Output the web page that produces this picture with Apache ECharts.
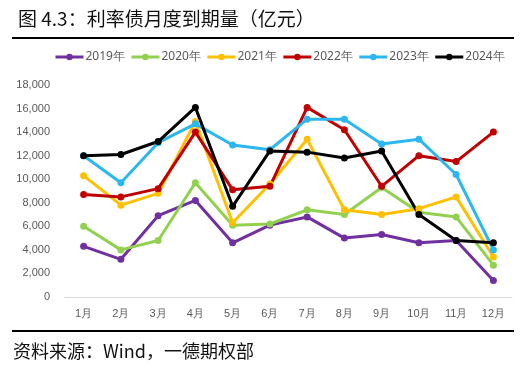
<!DOCTYPE html>
<html>
<head>
<meta charset="utf-8">
<script src="https://cdn.jsdelivr.net/npm/echarts@6/dist/echarts.min.js"></script>
<style>
  html, body { margin: 0; padding: 0; background: #fff; }
  #main { width: 527px; height: 376px; }
</style>
</head>
<body>
<div id="main"></div>
<script>
var months = ['1月', '2月', '3月', '4月', '5月', '6月', '7月', '8月', '9月', '10月', '11月', '12月'];
var years = ['2019年', '2020年', '2021年', '2022年', '2023年', '2024年'];
var colors = ['#7030A0', '#92D050', '#FFC000', '#C00000', '#2DB7F0', '#000000'];

var y2019 = [4300, 3200, 6900, 8200, 4600, 6100, 6800, 5000, 5300, 4600, 4800, 1400];
var y2020 = [6000, 4000, 4800, 9700, 6100, 6200, 7400, 7000, 9300, 7200, 6800, 2700];
var y2021 = [10300, 7800, 8800, 14900, 6300, 9600, 13400, 7400, 7000, 7500, 8500, 3400];
var y2022 = [8700, 8500, 9200, 14000, 9100, 9400, 16100, 14200, 9400, 12000, 11500, 14000];
var y2023 = [12000, 9700, 13100, 14700, 12900, 12500, 15100, 15100, 13000, 13400, 10400, 4000];
var y2024 = [12000, 12100, 13200, 16100, 7700, 12400, 12300, 11800, 12400, 7000, 4800, 4600];

var allData = [y2019, y2020, y2021, y2022, y2023, y2024];

var chart = echarts.init(document.getElementById('main'));

var seriesList = years.map(function (name, i) {
  return {
    name: name,
    type: 'line',
    data: allData[i],
    symbol: 'circle',
    symbolSize: 7,
    lineStyle: { width: 3, color: colors[i] },
    itemStyle: { color: colors[i] }
  };
});

var option = {
  backgroundColor: '#FFFFFF',
  animation: false,
  title: {
    text: '图 4.3：利率债月度到期量（亿元）',
    left: 13,
    top: 4,
    textStyle: {
      fontFamily: 'Noto Sans CJK SC',
      fontSize: 19,
      fontWeight: 'normal',
      color: '#111'
    }
  },
  legend: {
    data: years,
    top: 51,
    left: 54,
    width: 470,
    padding: 0,
    itemWidth: 28,
    itemHeight: 8,
    itemGap: 5,
    lineStyle: { width: 3 },
    textStyle: { color: '#595959', fontSize: 12, fontFamily: 'Noto Sans', padding: [0, 0, 0, -3] }
  },
  grid: {
    left: 65,
    right: 15,
    top: 85,
    bottom: 79
  },
  xAxis: {
    type: 'category',
    data: months,
    axisTick: { show: false },
    axisLine: { lineStyle: { color: '#D9D9D9', width: 1 } },
    axisLabel: { color: '#595959', fontSize: 11, margin: 11 }
  },
  yAxis: {
    type: 'value',
    min: 0,
    max: 18000,
    interval: 2000,
    splitLine: { show: false },
    axisLine: { show: false },
    axisTick: { show: false },
    axisLabel: {
      color: '#595959',
      fontSize: 11,
      margin: 15,
      formatter: function (v) { return v.toLocaleString('en-US'); }
    }
  },
  graphic: [
    {
      type: 'line',
      shape: { x1: 12, y1: 38, x2: 514, y2: 38 },
      style: { stroke: '#000', lineWidth: 2 }
    },
    {
      type: 'line',
      shape: { x1: 12, y1: 331, x2: 514, y2: 331 },
      style: { stroke: '#000', lineWidth: 2 }
    },
    {
      type: 'text',
      left: 13,
      top: 342,
      style: {
        text: '资料来源：Wind，一德期权部',
        fontFamily: 'Noto Sans CJK SC',
        fontSize: 18,
        fill: '#111'
      }
    }
  ],
  series: seriesList
};

chart.setOption(option);
</script>
</body>
</html>
